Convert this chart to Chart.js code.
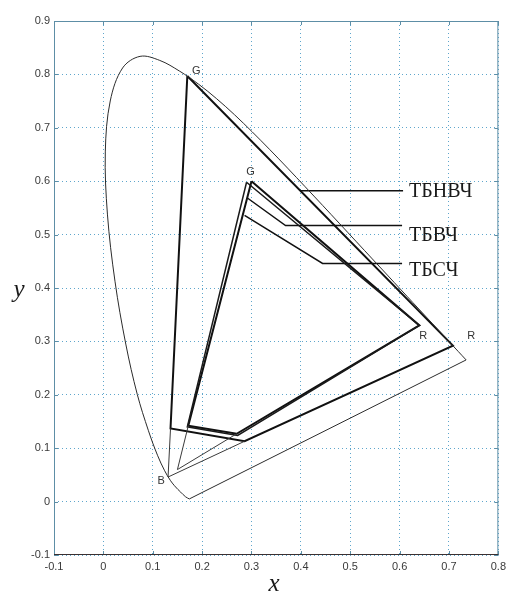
<!DOCTYPE html>
<html>
<head>
<meta charset="utf-8">
<script src="https://cdn.jsdelivr.net/npm/chart.js@4"></script>
<style>
  body { margin: 0; background: #fff; }
  #wrap { width: 511px; height: 597px; }
</style>
</head>
<body>
<div id="wrap"><canvas id="cie" width="511" height="597"></canvas></div>
<script>
// CIE 1931 spectral locus (380 nm ... 700 nm)
var locusX = [0.1741, 0.1666, 0.1566, 0.1510, 0.1440, 0.1355, 0.1241, 0.1096, 0.0913, 0.0687, 0.0454, 0.0235, 0.0082, 0.0039, 0.0139, 0.0389, 0.0743, 0.1142, 0.1547, 0.1929, 0.2296, 0.2658, 0.3016, 0.3373, 0.3731, 0.4087, 0.4441, 0.4788, 0.5125, 0.5448, 0.5752, 0.6029, 0.6270, 0.6658, 0.6915, 0.7190, 0.7347];
var locusY = [0.0050, 0.0089, 0.0177, 0.0227, 0.0297, 0.0399, 0.0578, 0.0868, 0.1327, 0.2007, 0.2950, 0.4127, 0.5384, 0.6548, 0.7502, 0.8120, 0.8338, 0.8262, 0.8059, 0.7816, 0.7543, 0.7243, 0.6923, 0.6589, 0.6245, 0.5896, 0.5547, 0.5202, 0.4866, 0.4544, 0.4242, 0.3965, 0.3725, 0.3340, 0.3083, 0.2809, 0.2653];
// purple line closing the locus
var purpleX = [0.7347, 0.1741];
var purpleY = [0.2653, 0.0050];

// ТБНВЧ gamut: G -> corner -> corner -> R -> G
var wideX = [0.170, 0.136, 0.286, 0.708, 0.170];
var wideY = [0.797, 0.137, 0.113, 0.292, 0.797];
var wideBlueX = [0.136, 0.131, 0.286];
var wideBlueY = [0.137, 0.046, 0.113];

// ТБВЧ gamut
var hdX = [0.300, 0.172, 0.270, 0.640, 0.300];
var hdY = [0.600, 0.142, 0.127, 0.330, 0.600];
var hdBlueX = [0.172, 0.150, 0.270];
var hdBlueY = [0.142, 0.060, 0.127];

// ТБСЧ gamut
var sdX = [0.290, 0.170, 0.272, 0.640, 0.290];
var sdY = [0.598, 0.140, 0.124, 0.330, 0.598];

// leader lines to the names
var leadWideX = [0.400, 0.607];
var leadWideY = [0.582, 0.582];
var leadHdX = [0.291, 0.369, 0.605];
var leadHdY = [0.569, 0.517, 0.517];
var leadSdX = [0.286, 0.444, 0.605];
var leadSdY = [0.536, 0.446, 0.446];

var xTicks = [-0.1, 0, 0.1, 0.2, 0.3, 0.4, 0.5, 0.6, 0.7, 0.8];
var yTicks = [-0.1, 0, 0.1, 0.2, 0.3, 0.4, 0.5, 0.6, 0.7, 0.8, 0.9];

// text marks: [text, x, y]
var pointNames = [['G', 0.188, 0.807], ['G', 0.298, 0.618], ['R', 0.648, 0.311], ['R', 0.745, 0.311], ['B', 0.117, 0.039]];
var systemNames = [['ТБНВЧ', 0.619, 0.581], ['ТБВЧ', 0.619, 0.497], ['ТБСЧ', 0.619, 0.433]];

function pts(xs, ys) {
    return xs.map(function(x, i) { return { x: x, y: ys[i] }; });
}

function line(xs, ys, width, color, tension) {
    return {
        data: pts(xs, ys),
        showLine: true,
        pointRadius: 0,
        borderColor: color,
        borderWidth: width,
        tension: tension || 0,
        fill: false
    };
}

var textPlugin = {
    id: 'texts',
    afterDraw: function(chart) {
        var ctx = chart.ctx;
        var xs = chart.scales.x, ys = chart.scales.y;
        var a = chart.chartArea;
        ctx.save();

        // box around the plot with inward ticks
        ctx.strokeStyle = '#5d8ea6';
        ctx.lineWidth = 1;
        ctx.strokeRect(a.left + 0.5, a.top + 0.5, a.right - a.left - 1, a.bottom - a.top - 1);
        ctx.beginPath();
        xTicks.forEach(function(v) {
            var px = Math.round(xs.getPixelForValue(v)) + 0.5;
            ctx.moveTo(px, a.bottom); ctx.lineTo(px, a.bottom - 4);
            ctx.moveTo(px, a.top); ctx.lineTo(px, a.top + 4);
        });
        yTicks.forEach(function(v) {
            var py = Math.round(ys.getPixelForValue(v)) + 0.5;
            ctx.moveTo(a.left, py); ctx.lineTo(a.left + 4, py);
            ctx.moveTo(a.right, py); ctx.lineTo(a.right - 4, py);
        });
        ctx.stroke();
        ctx.strokeStyle = '#3b3030';
        ctx.beginPath();
        ctx.moveTo(a.left, a.bottom - 0.5);
        ctx.lineTo(a.right, a.bottom - 0.5);
        ctx.stroke();

        ctx.fillStyle = '#333';
        ctx.font = '11px "Liberation Sans", Arial, sans-serif';
        ctx.textAlign = 'center';
        ctx.textBaseline = 'middle';
        pointNames.forEach(function(p) {
            ctx.fillText(p[0], xs.getPixelForValue(p[1]), ys.getPixelForValue(p[2]));
        });

        ctx.fillStyle = '#1a1a1a';
        ctx.font = '20px "Liberation Serif", "Times New Roman", serif';
        ctx.textAlign = 'left';
        systemNames.forEach(function(p) {
            ctx.fillText(p[0], xs.getPixelForValue(p[1]), ys.getPixelForValue(p[2]));
        });

        ctx.font = 'italic 25px "Liberation Serif", "Times New Roman", serif';
        ctx.textAlign = 'center';
        ctx.fillText('y', 19, 290);
        ctx.fillText('x', 274, 584);
        ctx.restore();
    }
};

var ctx = document.getElementById('cie');
var chart = new Chart(ctx, {
    type: 'scatter',
    data: {
        datasets: [
            line(locusX, locusY, 1, '#2b2b2b', 0.35),
            line(purpleX, purpleY, 1, '#2b2b2b'),
            line(wideBlueX, wideBlueY, 1, '#3a3a3a'),
            line(hdBlueX, hdBlueY, 1, '#3a3a3a'),
            line(wideX, wideY, 2, '#111'),
            line(sdX, sdY, 1.5, '#1a1a1a'),
            line(hdX, hdY, 2, '#111'),
            line(leadWideX, leadWideY, 1.5, '#111'),
            line(leadHdX, leadHdY, 1.5, '#111'),
            line(leadSdX, leadSdY, 1.5, '#111')
        ]
    },
    options: {
        responsive: false,
        animation: false,
        layout: { padding: { top: 21, right: 9, left: 0, bottom: 0 } },
        plugins: {
            legend: { display: false },
            tooltip: { enabled: false }
        },
        scales: {
            x: {
                type: 'linear',
                min: -0.1,
                max: 0.8,
                afterBuildTicks: function(scale) {
                    scale.ticks = xTicks.map(function(v) { return { value: v }; });
                },
                afterFit: function(scale) { scale.height = 42; },
                ticks: {
                    padding: 5,
                    color: '#3a3a3a',
                    font: { family: '"Liberation Sans", Arial, sans-serif', size: 11 },
                    callback: function(v) { return String(Number(v.toFixed(1))); }
                },
                grid: { color: '#5fa6cc', lineWidth: 1, drawTicks: false },
                border: { display: false, dash: [1, 3] }
            },
            y: {
                type: 'linear',
                min: -0.1,
                max: 0.9,
                afterBuildTicks: function(scale) {
                    scale.ticks = yTicks.map(function(v) { return { value: v }; });
                },
                afterFit: function(scale) { scale.width = 54; },
                ticks: {
                    padding: 4,
                    color: '#3a3a3a',
                    font: { family: '"Liberation Sans", Arial, sans-serif', size: 11 },
                    callback: function(v) { return String(Number(v.toFixed(1))); }
                },
                grid: { color: '#5fa6cc', lineWidth: 1, drawTicks: false },
                border: { display: false, dash: [1, 3] }
            }
        }
    },
    plugins: [textPlugin]
});
</script>
</body>
</html>
